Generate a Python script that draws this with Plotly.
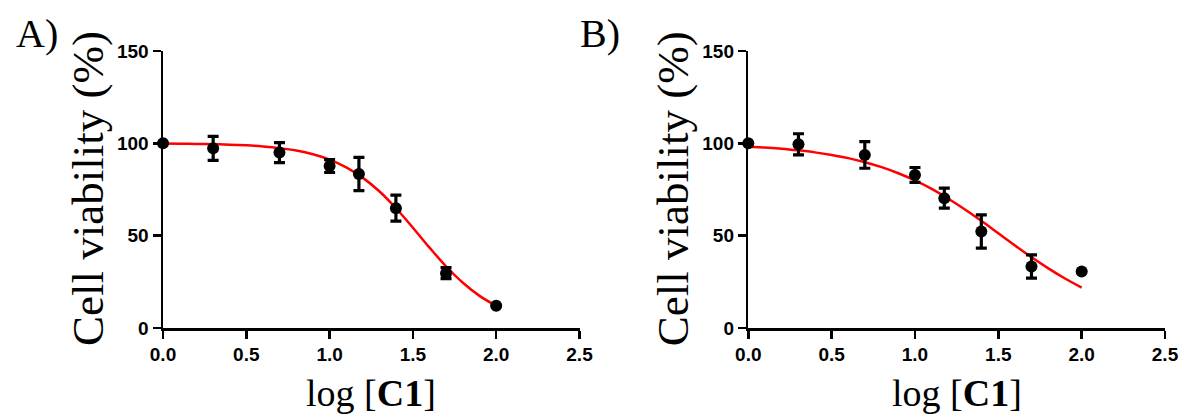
import plotly.graph_objects as go

W, H = 1189, 415

# Data points (log concentration)
log_conc = [0.0, 0.301, 0.699, 1.0, 1.176, 1.398, 1.699, 2.0]

viab_A = [100.0, 97.3, 95.0, 87.7, 83.4, 64.9, 29.7, 12.0]
err_A = [0.0, 6.5, 5.4, 3.5, 9.0, 7.0, 3.0, 0.0]

viab_B = [100.0, 99.5, 93.7, 82.9, 70.3, 52.3, 33.3, 30.6]
err_B = [0.0, 5.7, 7.2, 4.0, 5.4, 9.0, 6.3, 0.0]

# Fitted curves
curve_x = [0.0, 0.1, 0.2, 0.3, 0.4, 0.5, 0.6, 0.7, 0.8, 0.9, 1.0,
           1.1, 1.2, 1.3, 1.4, 1.5, 1.6, 1.7, 1.8, 1.9, 2.0]
curve_A = [99.9, 99.8, 99.7, 99.5, 99.3, 98.9, 98.3, 97.4, 96.1, 94.1, 91.2,
           87.0, 81.3, 73.9, 64.7, 54.3, 43.5, 33.3, 24.5, 17.4, 12.0]
curve_B = [98.2, 97.7, 97.1, 96.2, 95.1, 93.7, 92.0, 89.8, 87.1, 83.8, 79.9,
           75.3, 70.0, 64.2, 57.9, 51.3, 44.7, 38.3, 32.3, 26.8, 21.9]

x_ticks = [0.0, 0.5, 1.0, 1.5, 2.0, 2.5]
x_ticklabels = ["0.0", "0.5", "1.0", "1.5", "2.0", "2.5"]
y_ticks = [0, 50, 100, 150]
y_ticklabels = ["0", "50", "100", "150"]

panel_labels = ["A)", "B)"]
y_title = "Cell viability (%)"
x_title = "log [<b>C1</b>]"

fig = go.Figure()

def add_panel(n, yv, ev, cv):
    xa = "x" if n == 1 else "x2"
    ya = "y" if n == 1 else "y2"
    fig.add_trace(go.Scatter(
        x=curve_x, y=cv, mode="lines", line=dict(color="#ff0000", width=2.5, shape="spline"),
        xaxis=xa, yaxis=ya, showlegend=False, hoverinfo="skip", cliponaxis=False))
    fig.add_trace(go.Scatter(
        x=log_conc, y=yv, mode="markers",
        marker=dict(color="black", size=12, symbol="circle"),
        error_y=dict(type="data", array=ev, visible=True, color="black", thickness=3.2, width=5.5),
        xaxis=xa, yaxis=ya, showlegend=False, cliponaxis=False))

add_panel(1, viab_A, err_A, curve_A)
add_panel(2, viab_B, err_B, curve_B)

bold = lambda labels: ["<b>%s</b>" % s for s in labels]

tickfont = dict(family="Liberation Sans, Arial, sans-serif", size=19, color="black")
ydom = [1 - 328 / H, 1 - 51 / H]
xdomA = [163 / W, 579.5 / W]
xdomB = [748.3 / W, 1165 / W]

axis_common = dict(showline=True, linecolor="black", linewidth=2.5, ticks="outside",
                   ticklen=8, tickwidth=2.5, tickcolor="black", showgrid=False, zeroline=False,
                   tickfont=tickfont, fixedrange=True, automargin=False)

fig.update_layout(
    width=W, height=H, autosize=False,
    margin=dict(l=0, r=0, t=0, b=0),
    paper_bgcolor="white", plot_bgcolor="white",
    xaxis=dict(domain=xdomA, range=[0, 2.5], tickvals=x_ticks, ticktext=bold(x_ticklabels),
               anchor="y", **axis_common),
    yaxis=dict(domain=ydom, range=[0, 150], tickvals=y_ticks, ticktext=bold(y_ticklabels),
               anchor="x", **axis_common),
    xaxis2=dict(domain=xdomB, range=[0, 2.5], tickvals=x_ticks, ticktext=bold(x_ticklabels),
                anchor="y2", **axis_common),
    yaxis2=dict(domain=ydom, range=[0, 150], tickvals=y_ticks, ticktext=bold(y_ticklabels),
                anchor="x2", **axis_common),
)

serif = "Liberation Serif, Times New Roman, serif"
annots = []
for i, (axl, xcen, lab_x) in enumerate([(163, 371, 37), (748.3, 956.6, 600)]):
    annots.append(dict(text=y_title, x=(axl - 75) / W, y=1 - 189 / H, xref="paper", yref="paper",
                       textangle=-90, showarrow=False, xanchor="center", yanchor="middle",
                       font=dict(family=serif, size=45, color="black")))
    annots.append(dict(text=x_title, x=xcen / W, y=1 - 393 / H, xref="paper", yref="paper",
                       showarrow=False, xanchor="center", yanchor="middle",
                       font=dict(family=serif, size=38, color="black")))
    annots.append(dict(text=panel_labels[i], x=lab_x / W, y=1 - 34 / H, xref="paper", yref="paper",
                       showarrow=False, xanchor="center", yanchor="middle",
                       font=dict(family=serif, size=40, color="black")))
fig.update_layout(annotations=annots)

fig.write_html("out.html", config={"displayModeBar": False, "staticPlot": True},
               post_script="document.body.style.margin='0';document.body.style.overflow='hidden';")
